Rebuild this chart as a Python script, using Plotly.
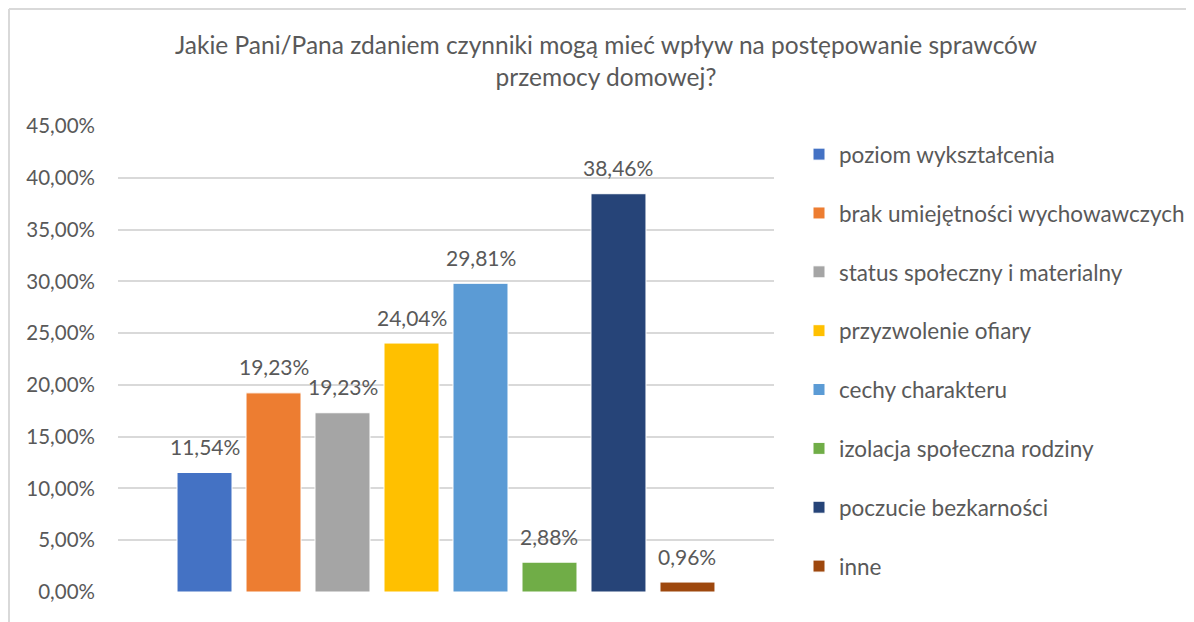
import plotly.graph_objects as go

categories = [
    "poziom wykształcenia",
    "brak umiejętności wychowawczych",
    "status społeczny i materialny",
    "przyzwolenie ofiary",
    "cechy charakteru",
    "izolacja społeczna rodziny",
    "poczucie bezkarności",
    "inne",
]
bar_values = [0.1154, 0.1923, 0.1731, 0.2404, 0.2981, 0.0288, 0.3846, 0.0096]
label_texts = ["11,54%", "19,23%", "19,23%", "24,04%", "29,81%", "2,88%", "38,46%", "0,96%"]
colors = ["#4472C4", "#ED7D31", "#A5A5A5", "#FFC000", "#5B9BD5", "#70AD47", "#264478", "#9E480E"]
y_tick_vals = [0, 0.05, 0.10, 0.15, 0.20, 0.25, 0.30, 0.35, 0.40, 0.45]
y_tick_text = ["0,00%", "5,00%", "10,00%", "15,00%", "20,00%", "25,00%", "30,00%", "35,00%", "40,00%", "45,00%"]

# page has an 8px body margin; figure fills the rest of the window
OFF = 8
W, H = 1194 - OFF, 622 - OFF
L, R, T, B = 110, 420, 118, 30
PW, PH = W - L - R, H - T - B

def px_x(sx):
    return (sx - OFF - L) / PW

def px_y(sy):
    return (H - B - (sy - OFF)) / PH

FONT = "Lato"
GREY = "#595959"

fig = go.Figure()
for i, (cat, v, c) in enumerate(zip(categories, bar_values, colors)):
    fig.add_trace(go.Bar(
        x=[i], y=[v], name=cat, width=0.797,
        marker=dict(color=c, line=dict(color="white", width=1)),
        legendgroup=f"g{i}", hoverinfo="skip",
    ))

annotations = [
    dict(x=i, y=v, xref="x", yref="y", text=t, showarrow=False,
         xanchor="center", yanchor="middle", yshift=26,
         font=dict(size=21, color=GREY, family=FONT))
    for i, (v, t) in enumerate(zip(bar_values, label_texts))
]

fig.update_layout(
    width=W, height=H,
    margin=dict(l=L, r=R, t=T, b=B, autoexpand=False),
    paper_bgcolor="white", plot_bgcolor="white",
    barmode="overlay",
    font=dict(family=FONT, color=GREY, size=20),
    title=dict(
        text="Jakie Pani/Pana zdaniem czynniki mogą mieć wpływ na postępowanie sprawców<br>przemocy domowej?",
        x=(606 - OFF) / W, xanchor="center", y=1 - (54 - OFF) / H, yanchor="middle",
        font=dict(size=24.5, color=GREY, family=FONT),
    ),
    showlegend=True,
    legend=dict(
        x=px_x(799), xanchor="left", y=px_y(133), yanchor="top",
        font=dict(size=22.5, color=GREY, family=FONT),
        tracegroupgap=26.6, bgcolor="rgba(0,0,0,0)",
    ),
    xaxis=dict(range=[-1.254, 8.254], showticklabels=False, showgrid=False,
               zeroline=False, showline=False, ticks=""),
    yaxis=dict(
        range=[0, 0.45], tickvals=y_tick_vals, ticktext=y_tick_text,
        showgrid=True, gridcolor="#D9D9D9", gridwidth=1.5,
        zeroline=False, showline=False, ticks="", ticklabelstandoff=22,
        tickfont=dict(size=20.5, color=GREY, family=FONT),
    ),
    annotations=annotations,
    shapes=[
        dict(type="line", xref="paper", yref="paper", x0=px_x(OFF + 1), x1=px_x(1200), y0=px_y(OFF + 1), y1=px_y(OFF + 1),
             line=dict(color="#D9D9D9", width=2)),
        dict(type="line", xref="paper", yref="paper", x0=px_x(OFF + 1), x1=px_x(OFF + 1), y0=px_y(OFF + 1), y1=px_y(630),
             line=dict(color="#D9D9D9", width=2)),
    ],
)

fig.write_html("out.html")
